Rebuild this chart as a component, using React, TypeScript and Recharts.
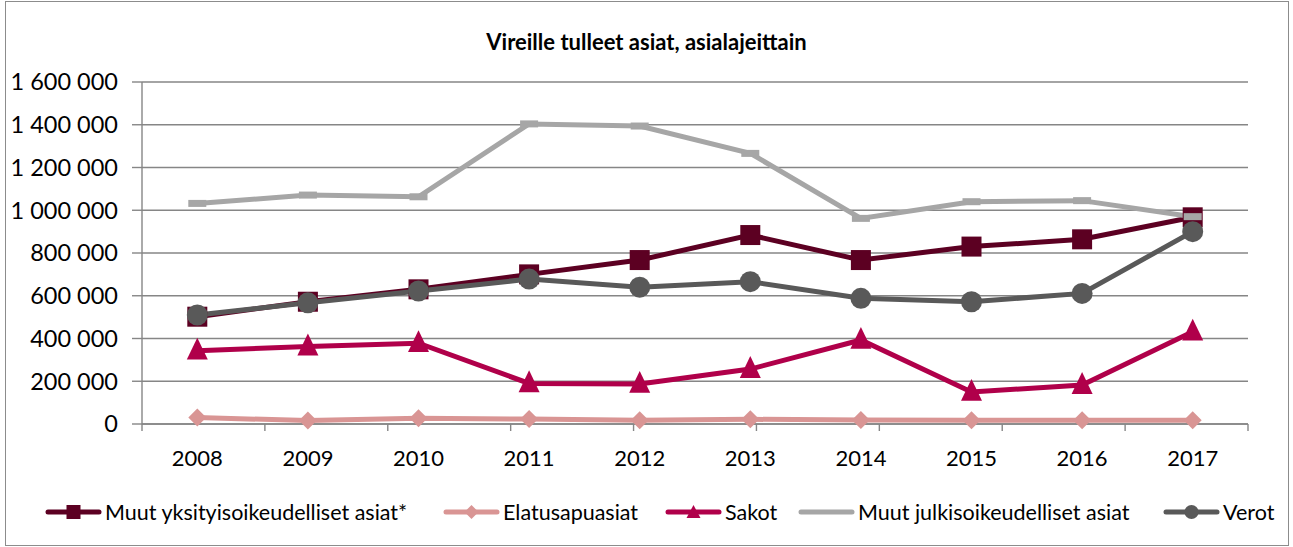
import React from "react";
import { LineChart, Line, XAxis, YAxis, CartesianGrid } from "recharts";

const years = ["2008", "2009", "2010", "2011", "2012", "2013", "2014", "2015", "2016", "2017"];
const yksityis = [502000, 572000, 630000, 700000, 767000, 884000, 767000, 830000, 864000, 967000];
const elatus = [30000, 16000, 27000, 23000, 18000, 22000, 19000, 17000, 18000, 18000];
const sakot = [343000, 362000, 378000, 190000, 187000, 257000, 393000, 150000, 182000, 432000];
const julkis = [1032000, 1071000, 1063000, 1404000, 1394000, 1266000, 962000, 1040000, 1045000, 970000];
const verot = [510000, 567000, 622000, 678000, 640000, 666000, 588000, 572000, 611000, 900000];
const yTicks = [0, 200000, 400000, 600000, 800000, 1000000, 1200000, 1400000, 1600000];
const boundaryTicks = [0, 1, 2, 3, 4, 5, 6, 7, 8, 9, 10];

const C_YKS = "#5c0022";
const C_ELA = "#d99594";
const C_SAK = "#b0004a";
const C_JUL = "#a6a6a6";
const C_VER = "#595959";
const AXIS = "#868686";
const FONT = "Lato, 'Open Sans', sans-serif";

const data = years.map((year, i) => ({
  year,
  yksityis: yksityis[i],
  elatus: elatus[i],
  sakot: sakot[i],
  julkis: julkis[i],
  verot: verot[i],
}));

const fmt = (v: number) => String(v).replace(/\B(?=(\d{3})+(?!\d))/g, " ");

type DotProps = { cx?: number; cy?: number; index?: number };

const SquareDot = (s: number, fill: string) => (p: DotProps) =>
  p.cx == null || p.cy == null ? <g key={p.index} /> : (
    <rect key={p.index} x={p.cx - s / 2} y={p.cy - s / 2} width={s} height={s} fill={fill} />
  );

const DiamondDot = (s: number, fill: string) => (p: DotProps) =>
  p.cx == null || p.cy == null ? <g key={p.index} /> : (
    <polygon
      key={p.index}
      points={`${p.cx},${p.cy - s / 2} ${p.cx + s / 2},${p.cy} ${p.cx},${p.cy + s / 2} ${p.cx - s / 2},${p.cy}`}
      fill={fill}
    />
  );

const TriangleDot = (s: number, fill: string) => (p: DotProps) =>
  p.cx == null || p.cy == null ? <g key={p.index} /> : (
    <polygon
      key={p.index}
      points={`${p.cx},${p.cy - s * 0.62} ${p.cx + s / 2},${p.cy + s * 0.42} ${p.cx - s / 2},${p.cy + s * 0.42}`}
      fill={fill}
    />
  );

const CircleDot = (s: number, fill: string) => (p: DotProps) =>
  p.cx == null || p.cy == null ? <g key={p.index} /> : (
    <circle key={p.index} cx={p.cx} cy={p.cy} r={s / 2} fill={fill} />
  );

const DashDot = (w: number, h: number, fill: string) => (p: DotProps) =>
  p.cx == null || p.cy == null ? <g key={p.index} /> : (
    <rect key={p.index} x={p.cx - w / 2} y={p.cy - h / 2} width={w} height={h} fill={fill} />
  );

const legendItems = [
  { name: "Muut yksityisoikeudelliset asiat*", color: C_YKS, shape: "square" },
  { name: "Elatusapuasiat", color: C_ELA, shape: "diamond" },
  { name: "Sakot", color: C_SAK, shape: "triangle" },
  { name: "Muut julkisoikeudelliset asiat", color: C_JUL, shape: "none" },
  { name: "Verot", color: C_VER, shape: "circle" },
];
const legendLeft = [45, 443, 665, 798, 1163];

const LegendIcon = ({ color, shape }: { color: string; shape: string }) => (
  <svg width={57} height={18} style={{ display: "block" }}>
    <line x1={3} y1={9} x2={54} y2={9} stroke={color} strokeWidth={5} strokeLinecap="round" />
    {shape === "square" && <rect x={21.5} y={2} width={14} height={14} fill={color} />}
    {shape === "diamond" && <polygon points="28.5,2 35.5,9 28.5,16 21.5,9" fill={color} />}
    {shape === "triangle" && <polygon points="28.5,2 35.5,15 21.5,15" fill={color} />}
    {shape === "circle" && <circle cx={28.5} cy={9} r={7} fill={color} />}
  </svg>
);

const App = () => {
  return (
    <div style={{ position: "absolute", left: 0, top: 0, width: 1293, height: 547, background: "#fff", fontFamily: FONT }}>
      <div
        style={{
          position: "absolute",
          left: 5,
          top: 1,
          width: 1282,
          height: 543,
          border: "1.5px solid #8c8c8c",
        }}
      />
      <div
        style={{
          position: "absolute",
          left: 0,
          width: 1293,
          top: 28,
          textAlign: "center",
          fontWeight: 700,
          fontSize: 22,
          color: "#000",
        }}
      >
        Vireille tulleet asiat, asialajeittain
      </div>
      <div style={{ position: "absolute", left: 0, top: 0 }}>
        <LineChart width={1293} height={547} data={data} margin={{ top: 82, right: 45, left: 0, bottom: 72 }}>
          <CartesianGrid xAxisId="cat" vertical={false} stroke={AXIS} strokeWidth={1.4} />
          <XAxis
            xAxisId="bounds"
            type="number"
            domain={[0, 10]}
            ticks={boundaryTicks}
            tickFormatter={() => ""}
            tickSize={7}
            height={1}
            stroke={AXIS}
            strokeWidth={1.4}
          />
          <XAxis
            xAxisId="cat"
            dataKey="year"
            scale="band"
            axisLine={false}
            tickLine={false}
            height={50}
            tickSize={6}
            tickMargin={19}
            tick={{ fill: "#000", fontSize: 22, fontFamily: FONT }}
          />
          <YAxis
            domain={[0, 1600000]}
            ticks={yTicks}
            interval={0}
            width={142}
            tickFormatter={fmt}
            tickSize={10}
            tickMargin={14}
            stroke={AXIS}
            strokeWidth={1.4}
            tick={{ fill: "#000", fontSize: 23.5, fontFamily: FONT }}
          />
          <Line xAxisId="cat" dataKey="yksityis" stroke={C_YKS} strokeWidth={5} dot={SquareDot(20, C_YKS)} isAnimationActive={false} />
          <Line xAxisId="cat" dataKey="elatus" stroke={C_ELA} strokeWidth={5} dot={DiamondDot(18, C_ELA)} isAnimationActive={false} />
          <Line xAxisId="cat" dataKey="sakot" stroke={C_SAK} strokeWidth={5} dot={TriangleDot(21, C_SAK)} isAnimationActive={false} />
          <Line xAxisId="cat" dataKey="julkis" stroke={C_JUL} strokeWidth={5} dot={DashDot(18, 7, C_JUL)} isAnimationActive={false} />
          <Line xAxisId="cat" dataKey="verot" stroke={C_VER} strokeWidth={5} dot={CircleDot(21, C_VER)} isAnimationActive={false} />
        </LineChart>
      </div>
      {legendItems.map((it, i) => (
        <div
          key={it.name}
          style={{
            position: "absolute",
            left: legendLeft[i],
            top: 499,
            height: 26,
            display: "flex",
            alignItems: "center",
            fontSize: 21.5,
            color: "#000",
            whiteSpace: "nowrap",
          }}
        >
          <LegendIcon color={it.color} shape={it.shape} />
          <span style={{ marginLeft: 3 }}>{it.name}</span>
        </div>
      ))}
    </div>
  );
};

export default App;
